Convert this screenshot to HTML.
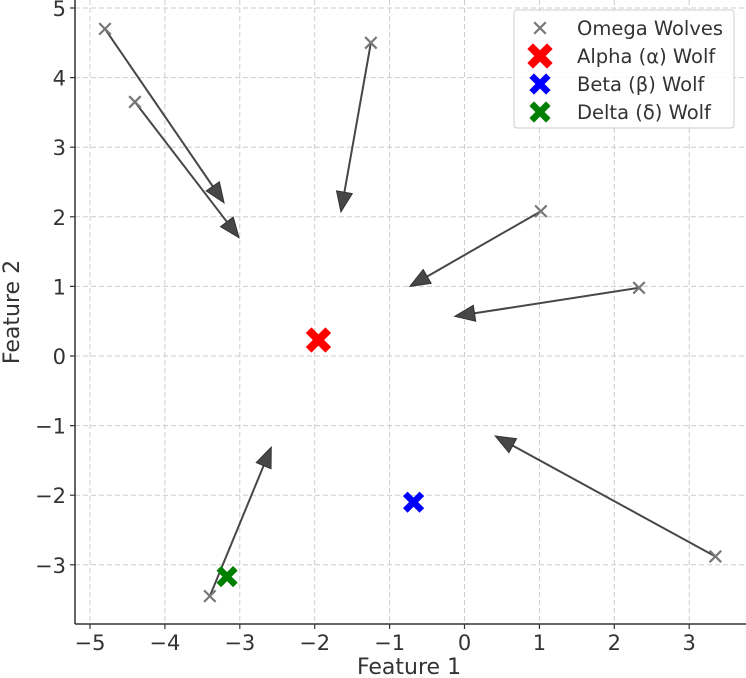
<!DOCTYPE html>
<html><head><meta charset="utf-8"><style>
body{margin:0;background:#fff;}
svg{display:block;font-family:"DejaVu Sans","Liberation Sans",sans-serif;}
</style></head><body>
<svg id="c" width="746" height="678"></svg>
<script>
const xTicks=[-5,-4,-3,-2,-1,0,1,2,3];
const yTicks=[-3,-2,-1,0,1,2,3,4,5];
const omegaX=[-4.8,-4.4,-1.25,1.02,2.33,3.35,-3.4];
const omegaY=[4.7,3.65,4.5,2.08,0.98,-2.88,-3.45];
const targetX=[-3.21,-3.01,-1.65,-0.73,-0.13,0.41,-2.58];
const targetY=[2.2,1.7,2.07,1.0,0.57,-1.15,-1.31];
const alphaPos=[-1.95,0.23];
const betaPos=[-0.68,-2.1];
const deltaPos=[-3.17,-3.17];

const X=v=>464.5+v*74.9;
const Y=v=>356-v*69.6;
const NS="http://www.w3.org/2000/svg";
const svg=document.getElementById('c');
function mk(t,a,parent){const e=document.createElementNS(NS,t);for(const k in a)e.setAttribute(k,a[k]);(parent||svg).appendChild(e);return e;}
const L=75,B=624,R=746,T=0;
xTicks.forEach(v=>{const g=mk('line',{x1:X(v),x2:X(v),y1:T,y2:B,stroke:'#ccc','stroke-dasharray':'5,3','stroke-width':1});

});
yTicks.forEach(v=>{const g=mk('line',{x1:L,x2:R,y1:Y(v),y2:Y(v),stroke:'#ccc','stroke-dasharray':'5,3','stroke-width':1});

});
let s=mk('line',{x1:L,x2:L,y1:T,y2:B,stroke:'#333','stroke-width':1.5});


s=mk('line',{x1:L,x2:R,y1:B,y2:B,stroke:'#333','stroke-width':1.5});


const fmt=v=>v<0?'\u2212'+(-v):''+v;
xTicks.forEach(v=>{mk('line',{x1:X(v),x2:X(v),y1:B,y2:B+5,stroke:'#333','stroke-width':1.2});
const t=mk('text',{x:X(v),y:B+26,'text-anchor':'middle','font-size':21,fill:'#333'});t.textContent=fmt(v);

});
yTicks.forEach(v=>{mk('line',{x1:L-5,x2:L,y1:Y(v),y2:Y(v),stroke:'#333','stroke-width':1.2});
const t=mk('text',{x:L-9,y:Y(v)+8,'text-anchor':'end','font-size':21,fill:'#333'});t.textContent=fmt(v);

});
let t=mk('text',{x:409,y:674,'text-anchor':'middle','font-size':22,fill:'#333'});t.textContent='Feature 1';


t=mk('text',{x:0,y:0,'text-anchor':'middle','font-size':22,fill:'#333',transform:'translate(19,312) rotate(-90)'});t.textContent='Feature 2';


for(let i=0;i<omegaX.length;i++){
 const x1=X(omegaX[i]),y1=Y(omegaY[i]),x2=X(targetX[i]),y2=Y(targetY[i]);
 const dx=x2-x1,dy=y2-y1,len=Math.hypot(dx,dy),ux=dx/len,uy=dy/len,px=-uy,py=ux;
 const hl=20,hw=8;
 const bx=x2-ux*hl,by=y2-uy*hl;
 const g=mk('g',{});
 
 
 mk('line',{x1:x1,y1:y1,x2:bx,y2:by,stroke:'#333','stroke-width':2,'stroke-opacity':0.9},g);
 mk('polygon',{points:`${x2},${y2} ${bx+px*hw},${by+py*hw} ${bx-px*hw},${by-py*hw}`,fill:'#333','fill-opacity':0.9,stroke:'#333','stroke-width':1},g);
}
function cross(cx,cy,r,w,color,name){
 const g=mk('g',{});
 
 
 mk('path',{d:`M${cx-r},${cy-r}L${cx+r},${cy+r}M${cx-r},${cy+r}L${cx+r},${cy-r}`,stroke:color,'stroke-width':w,'stroke-linecap':'square'},g);
 return g;
}
for(let i=0;i<omegaX.length;i++){cross(X(omegaX[i]),Y(omegaY[i]),5,2.2,'#777','omega-wolf-point');}
cross(X(alphaPos[0]),Y(alphaPos[1]),7,8,'#ff0000','alpha-wolf-point');
cross(X(betaPos[0]),Y(betaPos[1]),6,6.5,'#0000ff','beta-wolf-point');
cross(X(deltaPos[0]),Y(deltaPos[1]),6,6.5,'#008000','delta-wolf-point');
const lg=mk('g',{});


mk('rect',{x:514,y:10,width:220,height:118,rx:3,fill:'#fff','fill-opacity':0.85,stroke:'#ccc','stroke-width':1},lg);
const items=[['Omega Wolves','#777',5,2.2],['Alpha (\u03b1) Wolf','#ff0000',7,8],['Beta (\u03b2) Wolf','#0000ff',6,6.5],['Delta (\u03b4) Wolf','#008000',6,6.5]];
items.forEach((it,i)=>{
 const cy=28+i*28;
 const e=cross(540,cy,it[2],it[3],it[1],'legend-marker');
 lg.appendChild(e);
 const tx=mk('text',{x:577,y:cy+7,'font-size':19.5,fill:'#333'},lg);tx.textContent=it[0];
 
 
});
</script>
</body></html>
